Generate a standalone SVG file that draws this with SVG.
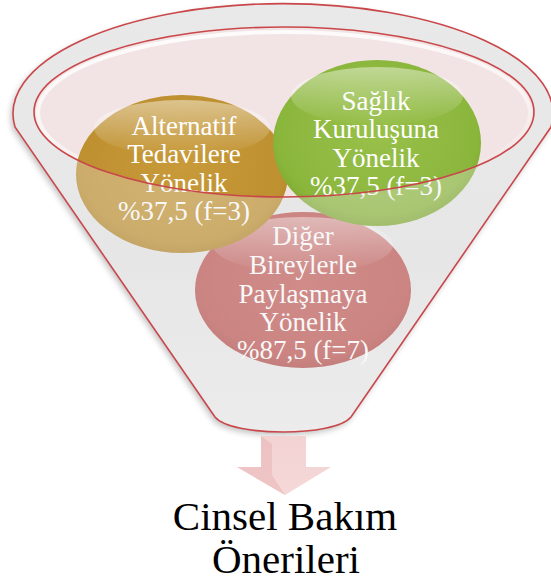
<svg xmlns="http://www.w3.org/2000/svg" width="551" height="581" viewBox="0 0 551 581">
<defs>
<style>
.lbl{font-family:'Liberation Serif','Times New Roman',serif;font-size:27px;fill:#ffffff;text-anchor:middle}
.ttl{font-family:'Liberation Serif','Times New Roman',serif;font-size:41px;fill:#000000;text-anchor:middle}
.edge{fill:none;stroke:#c9474a;stroke-width:1.6}
</style>
<linearGradient id="gBody" x1="0" y1="0" x2="0" y2="1">
<stop offset="0" stop-color="#e9e9e9"/>
<stop offset="0.6" stop-color="#e5e5e5"/>
<stop offset="1" stop-color="#ededed"/>
</linearGradient>
<radialGradient id="gGold" cx="0.5" cy="0.45" r="0.6">
<stop offset="0" stop-color="#c89a3a"/>
<stop offset="0.8" stop-color="#be9030"/>
<stop offset="1" stop-color="#a97d22"/>
</radialGradient>
<radialGradient id="gGreen" cx="0.5" cy="0.45" r="0.6">
<stop offset="0" stop-color="#98c04a"/>
<stop offset="0.8" stop-color="#8bb63c"/>
<stop offset="1" stop-color="#77a02c"/>
</radialGradient>
<radialGradient id="gRed" cx="0.5" cy="0.45" r="0.6">
<stop offset="0" stop-color="#c4605c"/>
<stop offset="0.8" stop-color="#bd5552"/>
<stop offset="1" stop-color="#a84644"/>
</radialGradient>
<linearGradient id="gHi" x1="0" y1="0" x2="0" y2="1">
<stop offset="0" stop-color="#ffffff" stop-opacity="0.45"/>
<stop offset="1" stop-color="#ffffff" stop-opacity="0"/>
</linearGradient>
<linearGradient id="gRim" x1="0" y1="0" x2="0.3" y2="1">
<stop offset="0" stop-color="#ffffff" stop-opacity="0.9"/>
<stop offset="0.6" stop-color="#ffffff" stop-opacity="0.6"/>
<stop offset="1" stop-color="#ffffff" stop-opacity="0"/>
</linearGradient>
<linearGradient id="gArrow" x1="0" y1="0" x2="0" y2="1">
<stop offset="0" stop-color="#f3d2d2"/>
<stop offset="1" stop-color="#f5d8d8"/>
</linearGradient>
<filter id="shadow" x="-10%" y="-10%" width="120%" height="120%">
<feGaussianBlur in="SourceAlpha" stdDeviation="3"/>
<feOffset dx="-2" dy="3" result="b"/>
<feComponentTransfer><feFuncA type="linear" slope="0.25"/></feComponentTransfer>
<feMerge><feMergeNode/><feMergeNode in="SourceGraphic"/></feMerge>
</filter>
</defs>

<g id="funnel-back">
<path d="M 15,127 A 270 110 0 1 1 551,127 L 351,417 C 335,437 231,437 215,417 Z" fill="url(#gBody)" filter="url(#shadow)"/>
<ellipse cx="284" cy="112" rx="250" ry="85" fill="#f2e4e4"/>
<ellipse cx="284" cy="113" rx="246" ry="81" fill="none" stroke="url(#gRim)" stroke-width="4"/>
</g>

<g id="node-diger">
<ellipse cx="303" cy="290" rx="108" ry="78" fill="url(#gRed)"/>
<ellipse cx="303" cy="245" rx="90" ry="28" fill="url(#gHi)"/>
<text class="lbl" x="303" y="245">Diğer</text>
<text class="lbl" x="303" y="274">Bireylerle</text>
<text class="lbl" x="303" y="303">Paylaşmaya</text>
<text class="lbl" x="303" y="331">Yönelik</text>
<text class="lbl" x="303" y="359">%87,5 (f=7)</text>
</g>

<g id="node-alternatif">
<ellipse cx="182" cy="174" rx="106" ry="79" fill="url(#gGold)"/>
<ellipse cx="182" cy="128" rx="88" ry="28" fill="url(#gHi)"/>
<text class="lbl" x="184" y="135">Alternatif</text>
<text class="lbl" x="184" y="163">Tedavilere</text>
<text class="lbl" x="184" y="192">Yönelik</text>
<text class="lbl" x="184" y="220">%37,5 (f=3)</text>
</g>

<g id="node-saglik">
<ellipse cx="377" cy="143" rx="104" ry="83" fill="url(#gGreen)"/>
<ellipse cx="377" cy="96" rx="86" ry="29" fill="url(#gHi)"/>
<text class="lbl" x="376" y="110">Sağlık</text>
<text class="lbl" x="376" y="138">Kuruluşuna</text>
<text class="lbl" x="376" y="167">Yönelik</text>
<text class="lbl" x="376" y="195">%37,5 (f=3)</text>
</g>

<g id="funnel-front">
<path d="M 15,127 A 270 110 0 1 1 551,127 L 351,417 C 335,437 231,437 215,417 Z M 34,112 A 250 85 0 1 0 534,112 A 250 85 0 1 0 34,112 Z" fill="#e8e8e8" fill-opacity="0.32" fill-rule="evenodd"/>
<path class="edge" d="M 15,127 A 270 110 0 1 1 551,127 L 351,417 C 335,437 231,437 215,417 Z"/>
<ellipse class="edge" cx="284" cy="112" rx="250" ry="85"/>
</g>

<g id="connectors">
<path d="M 261,436 L 306,436 L 306,467 L 331,467 L 285,495 L 237,467 L 261,467 Z" fill="url(#gArrow)"/>
<path d="M 261,436 L 272,444 L 272,475 L 285,495 L 237,467 L 261,467 Z" fill="#eab8b8" fill-opacity="0.6"/>
</g>

<g id="node-title">
<text class="ttl" x="285" y="530">Cinsel Bakım</text>
<text class="ttl" x="286" y="573">Önerileri</text>
</g>
</svg>
